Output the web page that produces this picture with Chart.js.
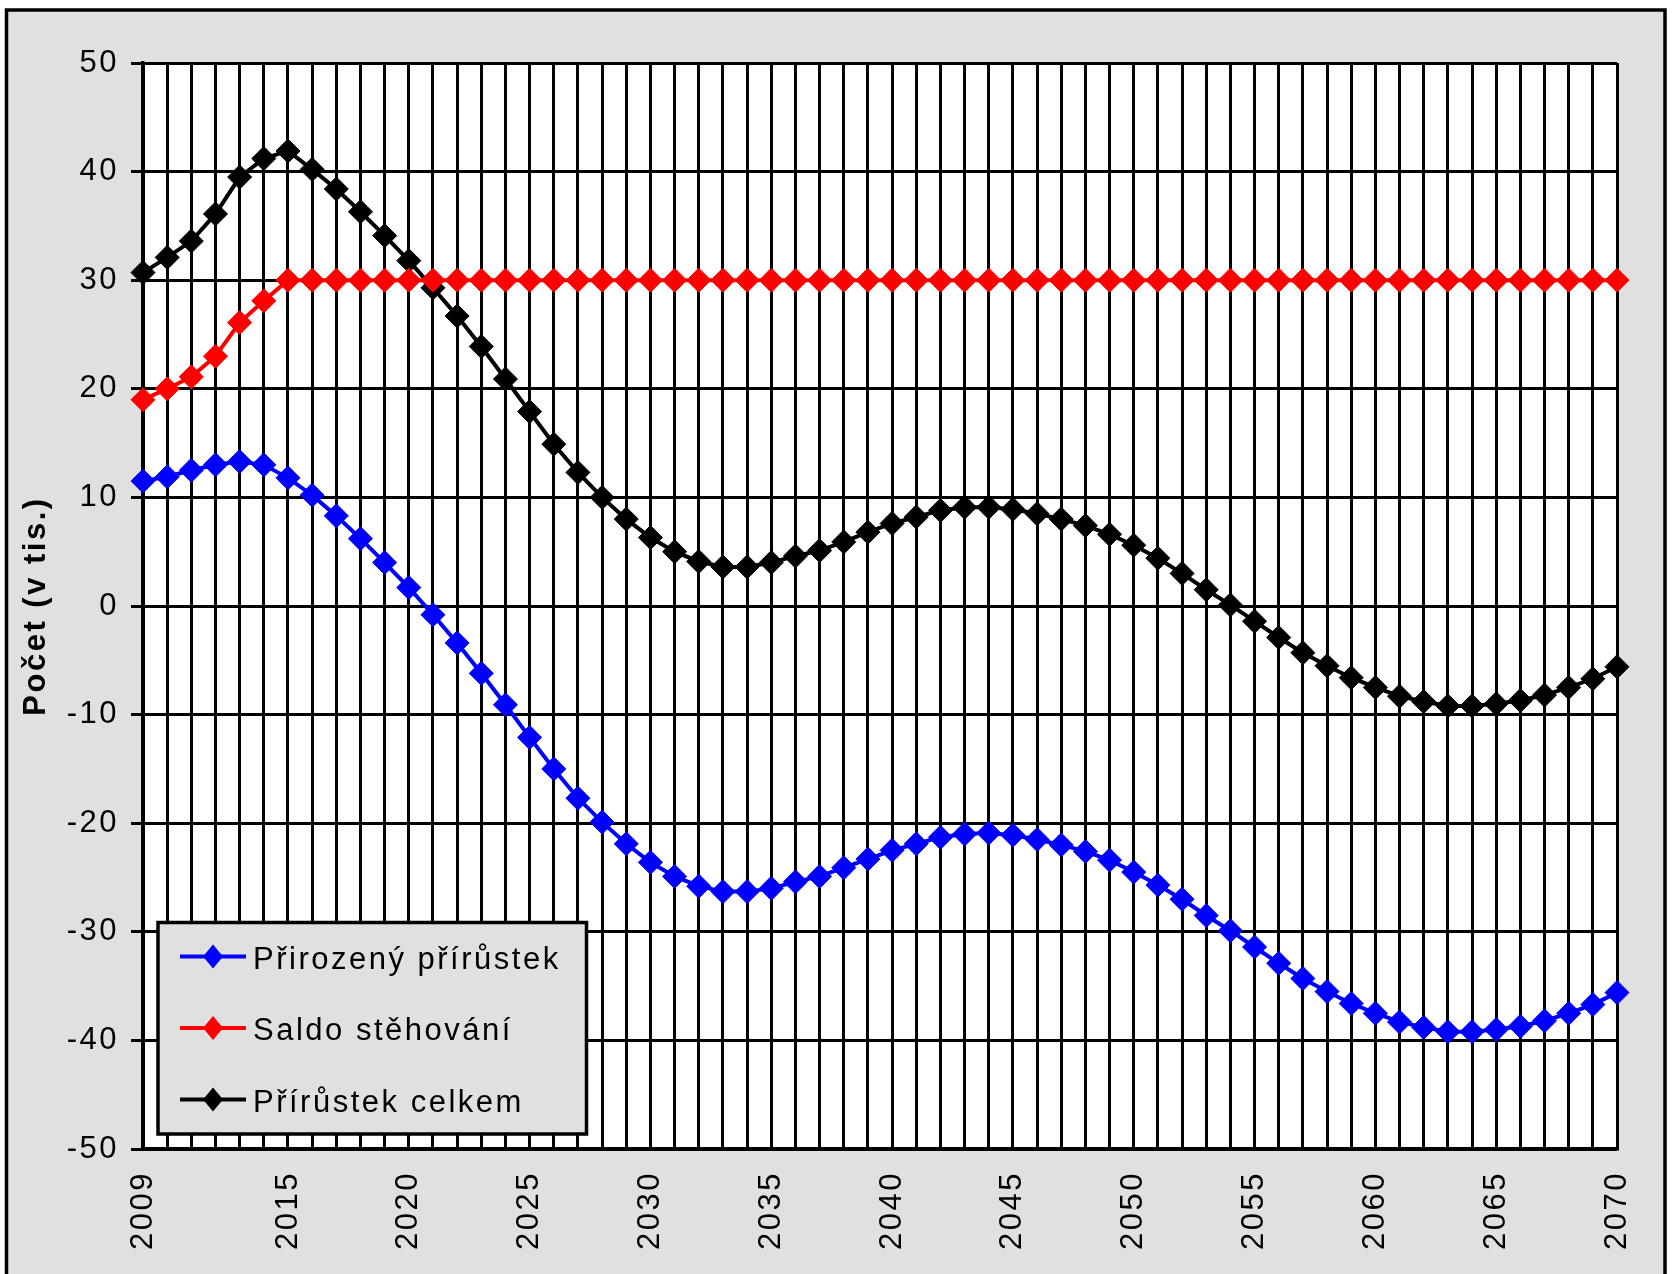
<!DOCTYPE html>
<html>
<head>
<meta charset="utf-8">
<script src="https://cdn.jsdelivr.net/npm/chart.js@4.4.1/dist/chart.umd.min.js"></script>
<style>
  html, body { margin: 0; padding: 0; background: #fff; }
  canvas { display: block; }
</style>
</head>
<body>
<canvas id="chart" width="1677" height="1274"></canvas>
<script>
const years = [2009, 2010, 2011, 2012, 2013, 2014, 2015, 2016, 2017, 2018,
    2019, 2020, 2021, 2022, 2023, 2024, 2025, 2026, 2027, 2028,
    2029, 2030, 2031, 2032, 2033, 2034, 2035, 2036, 2037, 2038,
    2039, 2040, 2041, 2042, 2043, 2044, 2045, 2046, 2047, 2048,
    2049, 2050, 2051, 2052, 2053, 2054, 2055, 2056, 2057, 2058,
    2059, 2060, 2061, 2062, 2063, 2064, 2065, 2066, 2067, 2068,
    2069, 2070];
const xTickLabels = ['2009', '2015', '2020', '2025', '2030', '2035', '2040',
    '2045', '2050', '2055', '2060', '2065', '2070'];
const yTickValues = [-50, -40, -30, -20, -10, 0, 10, 20, 30, 40, 50];

const seriesNames = ['Přirozený přírůstek', 'Saldo stěhování', 'Přírůstek celkem'];
const seriesColors = ['#0000ff', '#ff0000', '#000000'];

// Přirozený přírůstek (v tis.)
const naturalIncrease = [11.5, 11.9, 12.5, 13.0, 13.3, 13.0, 11.8, 10.2, 8.3, 6.2,
    4.0, 1.7, -0.8, -3.4, -6.2, -9.1, -12.1, -15.0, -17.7, -19.9,
    -21.9, -23.6, -24.9, -25.8, -26.3, -26.3, -26.0, -25.4, -24.9, -24.1,
    -23.3, -22.5, -21.9, -21.3, -21.0, -20.9, -21.1, -21.5, -22.0, -22.6,
    -23.4, -24.5, -25.7, -27.0, -28.5, -29.9, -31.4, -32.9, -34.3, -35.5,
    -36.6, -37.5, -38.3, -38.8, -39.2, -39.2, -39.0, -38.7, -38.2, -37.5,
    -36.7, -35.6];

// Saldo stěhování (v tis.)
const netMigration = [19.0, 20.0, 21.1, 23.0, 26.1, 28.1, 30, 30, 30, 30,
    30, 30, 30, 30, 30, 30, 30, 30, 30, 30,
    30, 30, 30, 30, 30, 30, 30, 30, 30, 30,
    30, 30, 30, 30, 30, 30, 30, 30, 30, 30,
    30, 30, 30, 30, 30, 30, 30, 30, 30, 30,
    30, 30, 30, 30, 30, 30, 30, 30, 30, 30,
    30, 30];

// Přírůstek celkem (v tis.)
const totalIncrease = [30.7, 32.1, 33.6, 36.1, 39.5, 41.2, 41.9, 40.2, 38.4, 36.3,
    34.1, 31.8, 29.3, 26.7, 23.9, 20.9, 17.9, 14.9, 12.3, 10.0,
    8.0, 6.3, 5.0, 4.1, 3.6, 3.6, 4.0, 4.6, 5.1, 5.9,
    6.8, 7.6, 8.2, 8.8, 9.1, 9.1, 8.9, 8.5, 8.0, 7.4,
    6.6, 5.6, 4.4, 3.0, 1.5, 0.1, -1.4, -2.9, -4.3, -5.5,
    -6.6, -7.5, -8.3, -8.8, -9.2, -9.2, -9.0, -8.7, -8.2, -7.5,
    -6.7, -5.6];

const FONT = '"Liberation Sans", Arial, sans-serif';
const SPACING = '2.5px';

// grey frame, white plot area and the boxed legend in the lower left corner
const framePlugin = {
    id: 'frame',
    beforeUpdate(chart) {
        chart.ctx.letterSpacing = SPACING;
    },
    beforeDraw(chart) {
        const ctx = chart.ctx;
        const a = chart.chartArea;
        ctx.save();
        ctx.fillStyle = '#fff';
        ctx.fillRect(0, 0, chart.width, chart.height);
        ctx.fillStyle = '#e0e0e0';
        ctx.fillRect(6.5, 10, 1658.5, chart.height);
        ctx.strokeStyle = '#000';
        ctx.lineWidth = 3.5;
        ctx.beginPath();
        ctx.moveTo(6.5, chart.height + 5);
        ctx.lineTo(6.5, 10);
        ctx.lineTo(1665, 10);
        ctx.lineTo(1665, chart.height + 5);
        ctx.stroke();
        ctx.fillStyle = '#fff';
        ctx.fillRect(a.left, a.top, a.right - a.left, a.bottom - a.top);
        ctx.restore();
        ctx.letterSpacing = SPACING;
    },
    afterDraw(chart) {
        const ctx = chart.ctx;
        const a = chart.chartArea;
        const boxX = a.left + 15;
        const boxY = a.bottom - 226.5;
        ctx.save();
        ctx.fillStyle = '#e0e0e0';
        ctx.fillRect(boxX, boxY, 428.5, 211.5);
        ctx.strokeStyle = '#000';
        ctx.lineWidth = 3.5;
        ctx.strokeRect(boxX, boxY, 428.5, 211.5);
        chart.data.datasets.forEach((ds, i) => {
            const y = boxY + 34 + i * 71.5;
            ctx.strokeStyle = ds.borderColor;
            ctx.lineWidth = 4;
            ctx.beginPath();
            ctx.moveTo(boxX + 22, y);
            ctx.lineTo(boxX + 88, y);
            ctx.stroke();
            const cx = boxX + 55;
            ctx.fillStyle = ds.borderColor;
            ctx.beginPath();
            ctx.moveTo(cx, y - 12);
            ctx.lineTo(cx + 10, y);
            ctx.lineTo(cx, y + 12);
            ctx.lineTo(cx - 10, y);
            ctx.closePath();
            ctx.fill();
            ctx.fillStyle = '#000';
            ctx.font = '31px ' + FONT;
            ctx.letterSpacing = SPACING;
            ctx.textBaseline = 'alphabetic';
            ctx.fillText(ds.label, boxX + 95, y + 12);
        });
        ctx.restore();
    }
};

function makeSeries(i, values) {
    return {
        label: seriesNames[i],
        data: values,
        borderColor: seriesColors[i],
        backgroundColor: seriesColors[i],
        pointBackgroundColor: seriesColors[i],
        pointBorderColor: seriesColors[i],
        borderWidth: 4,
        pointStyle: 'rectRot',
        pointRadius: 12,
        pointBorderWidth: 1,
        tension: 0,
        clip: false
    };
}

new Chart(document.getElementById('chart'), {
    type: 'line',
    data: {
        labels: years,
        datasets: [
            makeSeries(0, naturalIncrease),
            makeSeries(1, netMigration),
            makeSeries(2, totalIncrease)
        ]
    },
    options: {
        responsive: false,
        animation: false,
        devicePixelRatio: 1,
        layout: { padding: { top: 63, right: 60, left: 0, bottom: 0 } },
        plugins: {
            legend: { display: false },
            tooltip: { enabled: false }
        },
        scales: {
            x: {
                grid: { color: '#000', lineWidth: 3, drawTicks: false },
                border: { color: '#000', width: 3.5 },
                ticks: {
                    autoSkip: false,
                    minRotation: 90,
                    maxRotation: 90,
                    padding: 22,
                    color: '#000',
                    font: { family: FONT, size: 31 },
                    callback: function (value, index) {
                        const label = String(years[index]);
                        return xTickLabels.includes(label) ? label : '';
                    }
                },
                afterFit: function (scale) { scale.height = 125; }
            },
            y: {
                min: -50,
                max: 50,
                afterBuildTicks: function (scale) {
                    scale.ticks = yTickValues.map(v => ({ value: v }));
                },
                grid: { color: '#000', lineWidth: 3, tickLength: 12 },
                border: { color: '#000', width: 3.5 },
                ticks: {
                    padding: 12,
                    color: '#000',
                    font: { family: FONT, size: 31 }
                },
                title: {
                    display: true,
                    text: 'Počet (v tis.)',
                    color: '#000',
                    font: { family: FONT, size: 31, weight: 'bold' },
                    padding: { top: 18, bottom: 0 }
                },
                afterFit: function (scale) { scale.width = 143; }
            }
        }
    },
    plugins: [framePlugin]
});
</script>
</body>
</html>
